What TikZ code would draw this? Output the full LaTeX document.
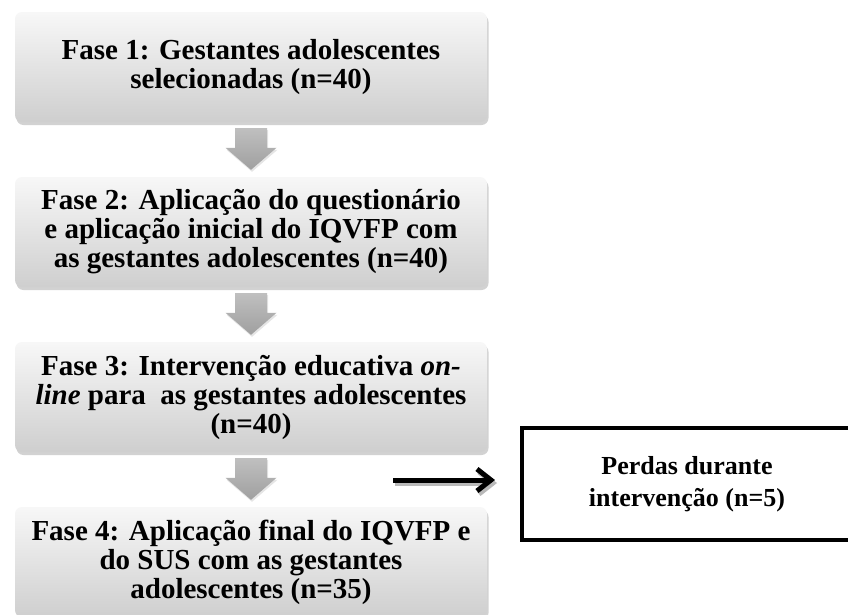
\documentclass[tikz,border=0pt]{standalone}
\usepackage{fontspec}
\setmainfont{Liberation Serif}
\usetikzlibrary{shadows,arrows.meta,calc}
\begin{document}
\begin{tikzpicture}[x=1pt,y=-1pt,
  phase/.style={rounded corners=7pt, minimum width=472pt, minimum height=110pt,
    top color=gray!6, bottom color=gray!38, align=center, inner sep=0pt,
    font=\bfseries\fontsize{29}{29}\selectfont,
    drop shadow={shadow xshift=1.5pt, shadow yshift=-3pt, opacity=0.35}},
  downarrow/.style={top color=gray!50, bottom color=gray!75, draw=none},
  lossbox/.style={draw=black, line width=3.5pt, minimum width=330pt, minimum height=112pt,
    align=center, font=\bfseries\fontsize{26}{32}\selectfont}]
\path[use as bounding box, clip] (0,0) rectangle (848,614);
\fill[white] (0,0) rectangle (848,614);
\node[phase] (f1) at (251,67) {Fase 1: Gestantes adolescentes\\selecionadas (n=40)};
\node[phase] (f2) at (251,232) {Fase 2: Aplicação do questionário\\e aplicação inicial do IQVFP com\\as gestantes adolescentes (n=40)};
\node[phase] (f3) at (251,397) {Fase 3: Intervenção educativa \textit{on-}\\\textit{line} para \ as gestantes adolescentes\\(n=40)};
\node[phase] (f4) at (251,562) {Fase 4: Aplicação final do IQVFP e\\do SUS com as gestantes\\adolescentes (n=35)};
\foreach \a/\b in {f1/f2,f2/f3,f3/f4}{
  \shade[downarrow, drop shadow={shadow xshift=1pt, shadow yshift=-2pt, opacity=0.2}]
    ($(\a.south)+(-16,6)$) -- ($(\b.north)+(-16,-29)$) -- ($(\b.north)+(-25.5,-29)$)
    -- ($(\b.north)+(0,-7)$) -- ($(\b.north)+(25.5,-29)$) -- ($(\b.north)+(16,-29)$)
    -- ($(\a.south)+(16,6)$) -- cycle;
}
\node[lossbox] (loss) at (687,484) {Perdas durante\\intervenção (n=5)};
\coordinate (ls) at (393,480);
\coordinate (le) at (495,480);
\draw[gray!55, line width=5pt, -{Straight Barb[length=14pt,width=22pt]}] ($(ls)+(2,3)$) -- ($(le)+(2,3)$);
\draw[black, line width=5pt, -{Straight Barb[length=14pt,width=22pt]}] (ls) -- (le);
\end{tikzpicture}
\end{document}
